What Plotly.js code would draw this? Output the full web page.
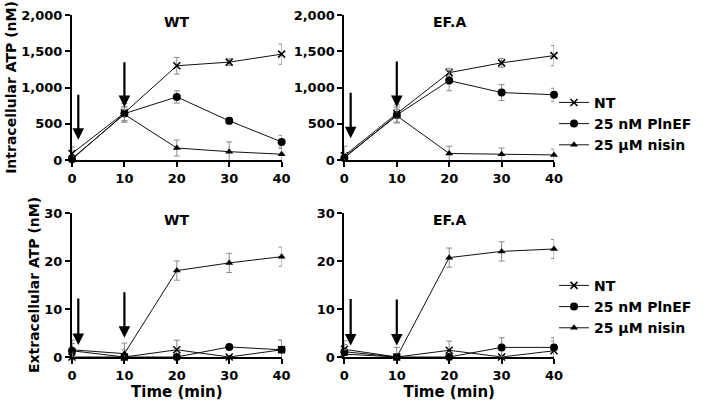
<!DOCTYPE html>
<html>
<head>
<meta charset="utf-8">
<script src="https://cdn.plot.ly/plotly-3.0.1.min.js"></script>
<style>html,body{margin:0;padding:0;background:#fff;}#chart{width:709px;height:406px;}</style>
</head>
<body>
<div id="chart"></div>
<script>
// ---- data ----
const times = [0, 10, 20, 30, 40];
const seriesNames = ['NT', '25 nM PlnEF', '25 \u03bcM nisin'];
const panelTitles = ['WT', 'EF.A', 'WT', 'EF.A'];
const yTitles = ['Intracellular ATP (nM)', 'Extracellular ATP (nM)'];
const xTitle = 'Time (min)';

// Intracellular ATP (nM) - WT
const wtInNT = [90, 650, 1300, 1350, 1460];
const wtInNTErr = [90, 130, 115, 45, 140];
const wtInPln = [10, 640, 870, 540, 250];
const wtInPlnErr = [20, 100, 85, 45, 90];
const wtInNis = [20, 630, 165, 115, 80];
const wtInNisErr = [30, 90, 110, 135, 100];

// Intracellular ATP (nM) - EF.A
const efInNT = [60, 640, 1205, 1340, 1440];
const efInNTErr = [130, 120, 60, 60, 140];
const efInPln = [30, 620, 1095, 930, 900];
const efInPlnErr = [40, 110, 140, 110, 90];
const efInNis = [40, 610, 90, 80, 70];
const efInNisErr = [50, 90, 100, 85, 80];

// Extracellular ATP (nM) - WT
const wtExNT = [0, 0, 1.5, 0, 1.5];
const wtExNTErr = [0.3, 0.3, 2, 0.3, 2];
const wtExPln = [1.3, 0, 0, 2.1, 1.5];
const wtExPlnErr = [1.5, 1.5, 0.3, 0.5, 2];
const wtExNis = [1.5, 0.7, 18, 19.6, 20.9];
const wtExNisErr = [2, 2.2, 2, 2, 2];

// Extracellular ATP (nM) - EF.A
const efExNT = [1.6, 0, 1.4, 0, 1.3];
const efExNTErr = [1.8, 0.3, 1.9, 0.3, 2];
const efExPln = [1.1, 0, 0, 2.0, 2.0];
const efExPlnErr = [1.5, 0.3, 0.3, 2, 2];
const efExNis = [0.6, 0, 20.7, 22, 22.5];
const efExNisErr = [1, 2, 2, 2, 2];

// treatment arrows: time, tail value, tip value
const arrowTimes = [1.2, 10];
const wtInArrowTail = [920, 1370];
const wtInArrowTip = [280, 730];
const efInArrowTail = [950, 1380];
const efInArrowTip = [300, 730];
const wtExArrowTail = [12.5, 13.8];
const wtExArrowTip = [2.5, 4.0];
const efExArrowTail = [12.4, 12.3];
const efExArrowTip = [2.4, 2.4];

// ---- build ----
const symbols = ['x-thin-open', 'circle', 'triangle-up'];
const msizes = [7, 8, 7];
const panels = [
  {xa: 'x', ya: 'y', data: [[wtInNT, wtInNTErr], [wtInPln, wtInPlnErr], [wtInNis, wtInNisErr]], legend: 'legend', show: true},
  {xa: 'x2', ya: 'y2', data: [[efInNT, efInNTErr], [efInPln, efInPlnErr], [efInNis, efInNisErr]], legend: 'legend', show: false},
  {xa: 'x3', ya: 'y3', data: [[wtExNT, wtExNTErr], [wtExPln, wtExPlnErr], [wtExNis, wtExNisErr]], legend: 'legend2', show: true},
  {xa: 'x4', ya: 'y4', data: [[efExNT, efExNTErr], [efExPln, efExPlnErr], [efExNis, efExNisErr]], legend: 'legend2', show: false}
];
const traces = [];
panels.forEach(p => {
  p.data.forEach((d, i) => {
    traces.push({
      type: 'scatter', mode: 'lines+markers',
      x: times, y: d[0],
      xaxis: p.xa, yaxis: p.ya,
      name: seriesNames[i],
      legend: p.legend, showlegend: p.show,
      cliponaxis: false,
      line: {color: '#111', width: 1},
      marker: {symbol: symbols[i], size: msizes[i], color: '#000', line: {color: '#000', width: i === 0 ? 1.5 : 0}},
      error_y: {type: 'data', array: d[1], visible: true, color: '#8a8a8a', thickness: 1, width: 3}
    });
  });
});

const boldFont = (s) => ({family: 'DejaVu Sans, Arial, sans-serif', size: s, color: '#000', weight: 'bold'});
function axis(extra) {
  return Object.assign({
    showgrid: false, zeroline: false, showline: true, linewidth: 2, linecolor: '#000',
    ticks: 'outside', ticklen: 5, tickwidth: 2, tickcolor: '#000',
    tickfont: boldFont(13), automargin: false, fixedrange: true
  }, extra);
}
const xl = [0, 0.4349], xr = [0.5651, 1];
const yt = [0.576, 1], yb = [0, 0.4211];

const annotations = [];
const arrowSets = [
  ['x', 'y', wtInArrowTail, wtInArrowTip],
  ['x2', 'y2', efInArrowTail, efInArrowTip],
  ['x3', 'y3', wtExArrowTail, wtExArrowTip],
  ['x4', 'y4', efExArrowTail, efExArrowTip]
];
arrowSets.forEach(a => {
  arrowTimes.forEach((t, k) => {
    annotations.push({
      xref: a[0], yref: a[1], axref: a[0], ayref: a[1],
      x: t, y: a[3][k], ax: t, ay: a[2][k], text: '',
      showarrow: true, arrowhead: 2, arrowsize: 1.05, arrowwidth: 2.2, arrowcolor: '#000', standoff: 0
    });
  });
});
const titleRefs = [['x', 'y domain'], ['x2', 'y2 domain'], ['x3', 'y3 domain'], ['x4', 'y4 domain']];
titleRefs.forEach((r, i) => {
  annotations.push({xref: r[0], yref: r[1], x: 20, y: 0.95, text: panelTitles[i], showarrow: false,
    font: boldFont(14), xanchor: 'center', yanchor: 'middle'});
});

const layout = {
  width: 709, height: 406,
  margin: {l: 72, r: 138, t: 15, b: 49},
  paper_bgcolor: '#fff', plot_bgcolor: '#fff',
  font: {family: 'DejaVu Sans, Arial, sans-serif', color: '#000'},
  xaxis: axis({domain: xl, anchor: 'y', range: [0, 40], dtick: 10, tick0: 0}),
  yaxis: axis({domain: yt, anchor: 'x', range: [0, 2000], dtick: 500, tickformat: ',',
    title: {text: yTitles[0], font: boldFont(14), standoff: 1}}),
  xaxis2: axis({domain: xr, anchor: 'y2', range: [0, 40], dtick: 10, tick0: 0}),
  yaxis2: axis({domain: yt, anchor: 'x2', range: [0, 2000], dtick: 500, tickformat: ','}),
  xaxis3: axis({domain: xl, anchor: 'y3', range: [0, 40], dtick: 10, tick0: 0,
    title: {text: xTitle, font: boldFont(15), standoff: 4}}),
  yaxis3: axis({domain: yb, anchor: 'x3', range: [0, 30], dtick: 10,
    title: {text: yTitles[1], font: boldFont(14), standoff: 1}}),
  xaxis4: axis({domain: xr, anchor: 'y4', range: [0, 40], dtick: 10, tick0: 0,
    title: {text: xTitle, font: boldFont(15), standoff: 4}}),
  yaxis4: axis({domain: yb, anchor: 'x4', range: [0, 30], dtick: 10}),
  legend: {x: 1.0, xanchor: 'left', y: 0.79, yanchor: 'top', font: boldFont(14),
    bgcolor: 'rgba(0,0,0,0)', itemwidth: 30, tracegroupgap: 0},
  legend2: {x: 1.0, xanchor: 'left', y: 0.255, yanchor: 'top', font: boldFont(14),
    bgcolor: 'rgba(0,0,0,0)', itemwidth: 30, tracegroupgap: 0},
  annotations: annotations,
  showlegend: true
};

Plotly.newPlot('chart', traces, layout, {displayModeBar: false, staticPlot: true});
</script>
</body>
</html>
